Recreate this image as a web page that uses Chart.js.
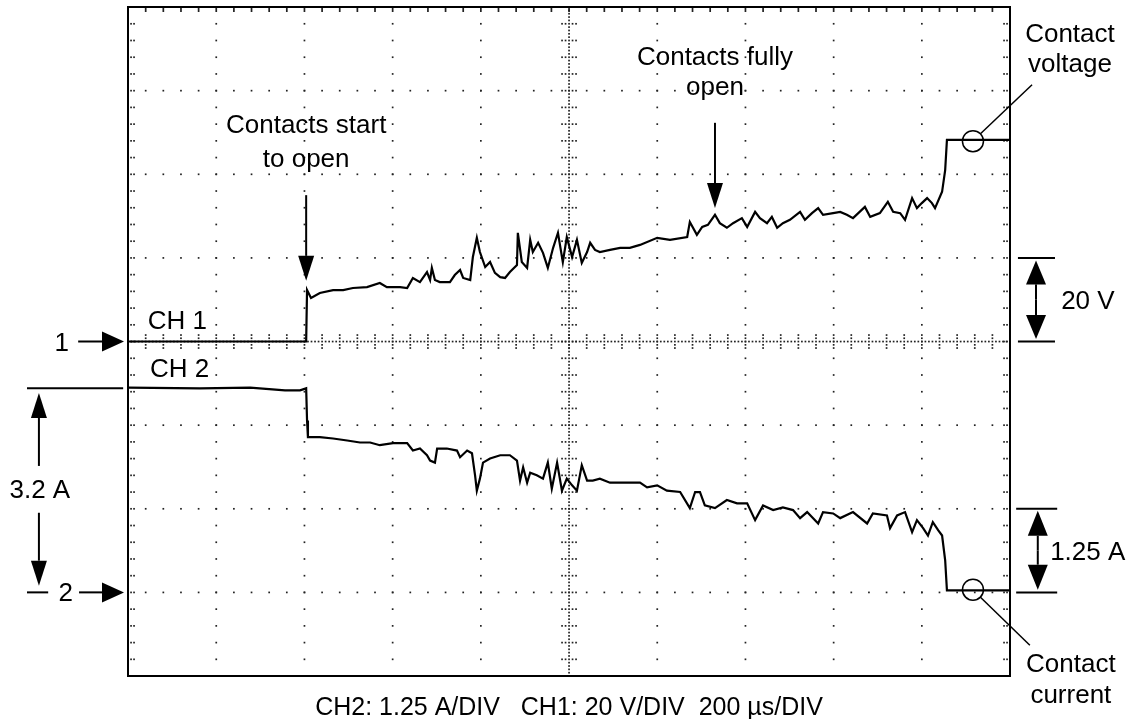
<!DOCTYPE html>
<html>
<head>
<meta charset="utf-8">
<script src="https://cdn.jsdelivr.net/npm/chart.js@4.4.0/dist/chart.umd.min.js"></script>
<style>
  body { margin: 0; background: #fff; }
  canvas { display: block; }
</style>
</head>
<body>
<canvas id="scope" width="1135" height="719"></canvas>
<script>
// Time in microseconds (200 us/div, 10 divisions)
const ch1TimeUs = [0, 404, 406, 415, 435, 465, 488, 510, 542, 571,
  587, 617, 633, 646, 662, 678, 685, 689, 696, 707,
  730, 741, 753, 760, 776, 782, 791, 798, 810, 821,
  832, 844, 855, 866, 882, 884, 893, 905, 912, 918,
  930, 941, 952, 964, 975, 986, 995, 1007, 1018, 1029,
  1041, 1048, 1059, 1070, 1093, 1116, 1138, 1161, 1200, 1229,
  1268, 1274, 1290, 1302, 1315, 1331, 1342, 1358, 1372, 1392,
  1404, 1422, 1433, 1449, 1460, 1472, 1485, 1501, 1524, 1535,
  1551, 1565, 1576, 1599, 1615, 1630, 1644, 1671, 1683, 1705,
  1723, 1735, 1751, 1762, 1778, 1789, 1800, 1812, 1823, 1830,
  1846, 1853, 1857, 2000];
// Contact voltage, volts (20 V/div)
const ch1Volts = [0, 0, 12.3, 10.4, 11.6, 12.3, 12.3, 12.8, 13.0, 14.0,
  13.0, 13.0, 12.8, 15.2, 14.2, 16.6, 14.7, 17.6, 14.7, 14.2,
  14.2, 15.9, 17.1, 15.2, 14.7, 20.2, 24.8, 21.4, 17.8, 19.0,
  16.4, 15.4, 15.2, 16.6, 18.3, 26.0, 19.0, 17.6, 24.3, 21.4,
  23.6, 21.2, 17.6, 22.4, 26.0, 19.0, 25.0, 20.2, 24.3, 18.8,
  21.4, 23.6, 21.9, 21.4, 21.9, 22.4, 22.4, 23.1, 24.8, 24.3,
  25.0, 28.6, 25.5, 27.4, 27.9, 30.3, 28.3, 27.2, 28.3, 29.5,
  27.4, 31.0, 29.5, 28.3, 29.8, 27.2, 28.3, 29.1, 31.0, 29.1,
  30.7, 31.9, 30.3, 30.7, 31.0, 30.3, 29.5, 32.2, 29.8, 30.7,
  33.4, 31.0, 30.7, 29.1, 34.3, 31.9, 33.1, 34.3, 33.1, 31.9,
  35.8, 41.0, 48.2, 48.2];

const ch2TimeUs = [0, 163, 277, 356, 390, 404, 406, 408, 435, 465,
  497, 526, 549, 571, 601, 633, 646, 662, 678, 685,
  696, 701, 723, 746, 753, 769, 780, 787, 791, 798,
  805, 821, 844, 866, 882, 889, 896, 905, 912, 927,
  941, 952, 961, 973, 984, 995, 1007, 1018, 1029, 1041,
  1054, 1070, 1093, 1116, 1138, 1161, 1177, 1200, 1222, 1252,
  1274, 1286, 1297, 1308, 1331, 1358, 1381, 1404, 1422, 1440,
  1463, 1485, 1508, 1524, 1540, 1565, 1576, 1599, 1615, 1644,
  1676, 1689, 1721, 1728, 1744, 1762, 1778, 1789, 1803, 1814,
  1825, 1837, 1846, 1853, 1857, 2000];
// Contact current, amps (1.25 A/div)
const ch2Amps = [3.06, 3.05, 3.06, 3.02, 3.02, 3.05, 2.57, 2.32, 2.32, 2.30,
  2.27, 2.24, 2.24, 2.20, 2.23, 2.23, 2.12, 2.15, 2.05, 1.97,
  1.94, 2.15, 2.15, 2.12, 2.02, 2.12, 2.08, 1.75, 1.52, 1.70,
  1.94, 2.00, 2.05, 2.05, 1.97, 1.67, 1.87, 1.64, 1.79, 1.75,
  1.70, 1.94, 1.55, 1.94, 1.52, 1.70, 1.60, 1.52, 1.90, 1.67,
  1.67, 1.70, 1.64, 1.64, 1.64, 1.64, 1.57, 1.60, 1.52, 1.50,
  1.26, 1.50, 1.50, 1.30, 1.26, 1.38, 1.33, 1.33, 1.08, 1.30,
  1.23, 1.27, 1.23, 1.11, 1.20, 1.03, 1.20, 1.18, 1.11, 1.20,
  1.03, 1.18, 1.15, 0.96, 1.15, 1.20, 0.90, 1.08, 0.96, 0.85,
  1.05, 0.93, 0.85, 0.48, 0.03, 0.03];

const caption = 'CH2: 1.25 A/DIV   CH1: 20 V/DIV  200 \u00b5s/DIV';
const FONT = '"Liberation Sans", Arial, Helvetica, sans-serif';

function arrow(ctx, x1, y1, x2, y2, len, half) {
  const ang = Math.atan2(y2 - y1, x2 - x1);
  const bx = x2 - len * Math.cos(ang), by = y2 - len * Math.sin(ang);
  ctx.beginPath(); ctx.moveTo(x1, y1); ctx.lineTo(bx, by); ctx.stroke();
  ctx.beginPath();
  ctx.moveTo(x2, y2);
  ctx.lineTo(bx + half * Math.sin(ang), by - half * Math.cos(ang));
  ctx.lineTo(bx - half * Math.sin(ang), by + half * Math.cos(ang));
  ctx.closePath(); ctx.fill();
}

function hline(ctx, x1, x2, y) {
  ctx.beginPath(); ctx.moveTo(x1, y); ctx.lineTo(x2, y); ctx.stroke();
}

// Oscilloscope graticule: dotted major lines, centre cross with ticks
const graticule = {
  id: 'graticule',
  beforeDatasetsDraw(chart) {
    const { ctx, chartArea: a } = chart;
    const dx = (a.right - a.left) / 10, dy = (a.bottom - a.top) / 8;
    const dot = (x, y) => ctx.fillRect(x - 0.8, y - 0.8, 1.7, 1.7);
    ctx.save();
    ctx.fillStyle = '#222';
    for (let i = 1; i < 10; i++) {
      if (i === 5) continue;
      for (let k = 1; k < 40; k++) dot(a.left + i * dx, a.top + k * dy / 5);
    }
    for (let j = 1; j < 8; j++) {
      if (j === 4) continue;
      for (let k = 1; k < 50; k++) dot(a.left + k * dx / 5, a.top + j * dy);
    }
    const cx = a.left + 5 * dx, cy = a.top + 4 * dy;
    for (let k = 1; k < 200; k++) dot(cx, a.top + k * dy / 25);
    for (let k = 1; k < 250; k++) dot(a.left + k * dx / 25, cy);
    for (let k = 1; k < 40; k++) {
      const y = a.top + k * dy / 5;
      [-7, -3.5, 3.5, 7].forEach(o => dot(cx + o, y));
      [3, 6].forEach(o => { dot(a.left + o, y); dot(a.right - o, y); });
    }
    for (let k = 1; k < 50; k++) {
      const x = a.left + k * dx / 5;
      [-6.5, -3.3, 3.3, 6.5].forEach(o => dot(x, cy + o));
      ctx.fillRect(x - 0.8, a.top, 1.7, 5);
    }
    ctx.restore();
  }
};

const notes = {
  id: 'notes',
  afterDatasetsDraw(chart) {
    const { ctx, chartArea: a, scales } = chart;
    const X = t => scales.x.getPixelForValue(t);
    const V = v => scales.yV.getPixelForValue(v);
    const A = i => scales.yA.getPixelForValue(i);
    ctx.save();
    ctx.strokeStyle = '#000';
    ctx.fillStyle = '#000';
    ctx.lineWidth = 2;
    ctx.strokeRect(a.left, a.top, a.right - a.left, a.bottom - a.top);

    ctx.font = '26px ' + FONT;
    ctx.textAlign = 'center';
    ctx.textBaseline = 'alphabetic';

    // Contacts start to open
    ctx.fillText('Contacts start', X(404), V(49.9));
    ctx.fillText('to open', X(404), V(41.7));
    arrow(ctx, X(404), V(35), X(404), V(14.5), 25, 8);

    // Contacts fully open
    ctx.fillText('Contacts fully', X(1331), V(66.1));
    ctx.fillText('open', X(1331), V(59));
    arrow(ctx, X(1331), V(52.3), X(1331), V(31.9), 25, 8);

    // Contact voltage callout
    ctx.lineWidth = 1.5;
    const cvx = X(1916), cvy = V(47.9);
    ctx.beginPath(); ctx.arc(cvx, cvy, 10.5, 0, Math.PI * 2); ctx.stroke();
    ctx.beginPath(); ctx.moveTo(cvx + 7.5, cvy - 7.5); ctx.lineTo(X(2050), V(61.4)); ctx.stroke();
    ctx.fillText('Contact', X(2136), V(71.6));
    ctx.fillText('voltage', X(2136), V(64.5));

    // Contact current callout
    const ccx = X(1916), ccy = A(0.04);
    ctx.beginPath(); ctx.arc(ccx, ccy, 10.5, 0, Math.PI * 2); ctx.stroke();
    ctx.beginPath(); ctx.moveTo(ccx + 7.5, ccy + 7.5); ctx.lineTo(X(2045), A(-0.79)); ctx.stroke();
    ctx.fillText('Contact', X(2138), A(-1.19));
    ctx.fillText('current', X(2138), A(-1.65));

    // 20 V scale marker
    ctx.lineWidth = 2;
    hline(ctx, X(2018), X(2102), V(20));
    hline(ctx, X(2018), X(2102), V(0));
    const mid20 = (V(20) + V(0)) / 2;
    arrow(ctx, X(2059), mid20, X(2059), V(19.4), 24, 10);
    arrow(ctx, X(2059), mid20, X(2059), V(0.6), 24, 10);
    ctx.textAlign = 'left';
    ctx.fillText('20 V', X(2116), V(10) + 9);

    // 1.25 A scale marker
    hline(ctx, X(2014), X(2107), A(1.25));
    hline(ctx, X(2014), X(2107), A(0));
    const midA = (A(1.25) + A(0)) / 2;
    arrow(ctx, X(2063), midA, X(2063), A(1.22), 25, 10);
    arrow(ctx, X(2063), midA, X(2063), A(0.04), 25, 10);
    ctx.fillText('1.25 A', X(2091), A(0.625) + 9);

    // channel labels
    ctx.fillText('CH 1', X(45), V(3.0));
    ctx.fillText('CH 2', X(50), A(3.22));

    // ground markers
    ctx.textAlign = 'center';
    ctx.fillText('1', X(-150), V(0) + 9);
    arrow(ctx, X(-113), V(0), X(-9), V(0), 22, 10);
    ctx.fillText('2', X(-141), A(0) + 9);
    arrow(ctx, X(-111), A(0), X(-9), A(0), 22, 10);

    // 3.2 A marker
    hline(ctx, X(-229), X(-11), A(3.05));
    hline(ctx, X(-229), X(-181), A(0));
    arrow(ctx, X(-202), A(1.89), X(-202), A(2.98), 25, 8);
    arrow(ctx, X(-202), A(1.19), X(-202), A(0.10), 25, 8);
    ctx.fillText('3.2 A', X(-200), A(1.41));

    // bottom caption
    ctx.font = '25px ' + FONT;
    ctx.fillText(caption, (a.left + a.right) / 2, a.bottom + 39);
    ctx.restore();
  }
};

const trace = { borderColor: '#000', borderWidth: 2.2, pointRadius: 0, tension: 0, fill: false };

new Chart(document.getElementById('scope'), {
  type: 'line',
  data: {
    datasets: [
      Object.assign({ label: 'CH 1', yAxisID: 'yV',
        data: ch1TimeUs.map((t, i) => ({ x: t, y: ch1Volts[i] })) }, trace),
      Object.assign({ label: 'CH 2', yAxisID: 'yA',
        data: ch2TimeUs.map((t, i) => ({ x: t, y: ch2Amps[i] })) }, trace)
    ]
  },
  options: {
    responsive: false,
    animation: false,
    layout: { padding: { left: 128, right: 125, top: 7, bottom: 43 } },
    plugins: { legend: { display: false }, tooltip: { enabled: false } },
    scales: {
      x: { type: 'linear', min: 0, max: 2000, display: false },
      yV: { type: 'linear', min: -80, max: 80, display: false },
      yA: { type: 'linear', min: -1.25, max: 8.75, display: false }
    }
  },
  plugins: [graticule, notes]
});
</script>
</body>
</html>
